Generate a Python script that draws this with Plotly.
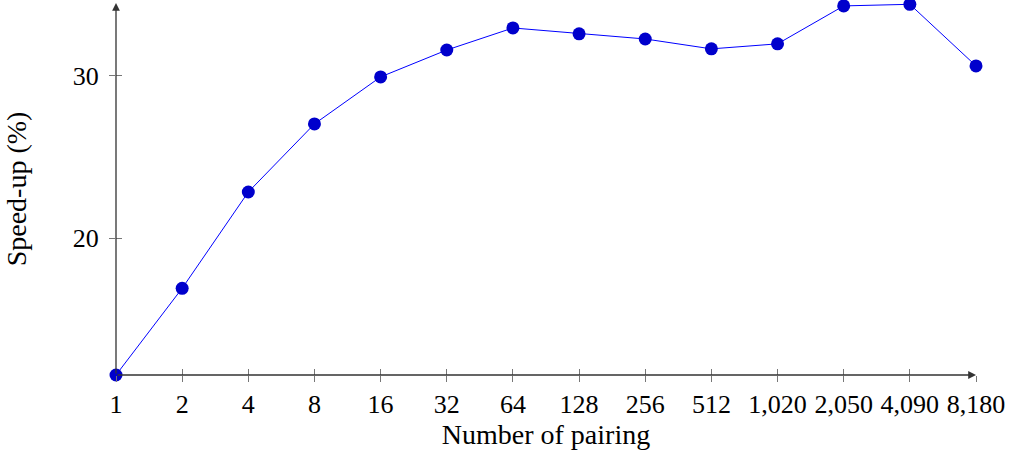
import plotly.graph_objects as go

pairings = ["1", "2", "4", "8", "16", "32", "64", "128", "256", "512",
            "1,020", "2,050", "4,090", "8,180"]
speedup = [11.55, 16.9, 22.84, 27.04, 29.94, 31.6, 32.96, 32.6, 32.28,
           31.67, 31.98, 34.32, 34.42, 30.62]
y_ticks = [20, 30]

pos = list(range(len(pairings)))
FONT = "Liberation Serif"

fig = go.Figure()
fig.add_trace(go.Scatter(
    x=pos, y=speedup, mode="lines+markers",
    line=dict(color="#0000ff", width=1),
    marker=dict(color="#0000cc", size=13),
    showlegend=False, cliponaxis=False,
))
# invisible trace on overlay axes for the inner half of the ticks
fig.add_trace(go.Scatter(x=pos, y=speedup, xaxis="x2", yaxis="y2",
                         mode="markers", marker=dict(opacity=0),
                         showlegend=False, hoverinfo="skip"))

xr = [0, len(pairings) - 1]
yr = [11.55, 34.5]
common_x = dict(range=xr, tickmode="array", tickvals=pos, showgrid=False,
                zeroline=False, ticklen=6, tickwidth=1, tickcolor="#777777",
                automargin=False)
common_y = dict(range=yr, tickmode="array", tickvals=y_ticks, showgrid=False,
                zeroline=False, ticklen=6, tickwidth=1, tickcolor="#777777",
                automargin=False)

fig.update_layout(
    width=1011, height=452,
    margin=dict(l=116, r=35, t=3, b=77),
    plot_bgcolor="white", paper_bgcolor="white",
    font=dict(family=FONT, size=26, color="black"),
    xaxis=dict(**common_x, ticktext=pairings, ticks="outside",
               showline=False, tickfont=dict(size=26),
               title=dict(text="Number of pairing", standoff=4,
                          font=dict(size=28))),
    yaxis=dict(**common_y, ticks="outside", showline=False,
               tickfont=dict(size=26), ticklabelstandoff=5,
               title=dict(text="Speed-up (%)", standoff=37,
                          font=dict(size=28))),
    xaxis2=dict(**common_x, overlaying="x", ticks="inside",
                showticklabels=False, side="bottom"),
    yaxis2=dict(**common_y, overlaying="y", ticks="inside",
                showticklabels=False, side="left"),
)

# axis lines with arrow heads
fig.add_annotation(xref="x domain", yref="y domain",
                   axref="x domain", ayref="y domain",
                   x=1.0, y=0, ax=0, ay=0, text="", showarrow=True,
                   arrowhead=2, arrowsize=1.2, arrowwidth=1.3,
                   arrowcolor="#333333")
fig.add_annotation(xref="x domain", yref="y domain",
                   axref="x domain", ayref="y domain",
                   x=0, y=1.0, ax=0, ay=0, text="", showarrow=True,
                   arrowhead=2, arrowsize=1.2, arrowwidth=1.3,
                   arrowcolor="#333333")

fig.write_html("out.html",
               config={"displayModeBar": False},
               post_script="document.body.style.margin='0';"
                           "document.body.style.padding='0';")
